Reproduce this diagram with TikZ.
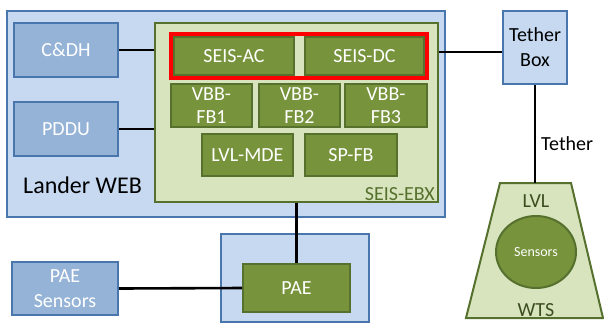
\documentclass[tikz,border=0pt]{standalone}
\usepackage{fontspec}
\setmainfont{Carlito}
\usetikzlibrary{shapes.geometric}
\definecolor{lblue}{HTML}{C6D9F1}
\definecolor{mblue}{HTML}{95B3D7}
\definecolor{bblue}{HTML}{4A76AE}
\definecolor{lgreen}{HTML}{D7E4BD}
\definecolor{dgreen}{HTML}{77933C}
\definecolor{bgreen}{HTML}{56702E}
\tikzset{
  box/.style={draw, rectangle, inner sep=0pt, line width=2pt},
  bluebox/.style={box, draw=bblue, fill=mblue, text=white, font=\fontsize{20}{24}\selectfont, align=center},
  lbluebox/.style={box, draw=bblue, fill=lblue},
  greenbox/.style={box, draw=bgreen, fill=dgreen, text=white, font=\fontsize{20}{23}\selectfont, align=center},
  conn/.style={draw=black, line width=2.6pt},
  lbl/.style={inner sep=0pt, font=\fontsize{20}{24}\selectfont}
}
\begin{document}
\begin{tikzpicture}[x=1pt,y=-1pt]
\useasboundingbox (0,0) rectangle (604,325);
% Lander WEB
\node[lbluebox, minimum width=438pt, minimum height=206pt] (lander) at (226,114) {};
\node[lbl, anchor=base west, font=\fontsize{24}{28}\selectfont] (landerlbl) at (23,193) {Lander WEB};
\node[bluebox, minimum width=104pt, minimum height=54pt] (cdh) at (66,50) {C\&DH};
\node[bluebox, minimum width=104pt, minimum height=54pt] (pddu) at (66,129) {PDDU};
% SEIS-EBX
\node[box, draw=bgreen, fill=lgreen, minimum width=283pt, minimum height=179pt] (ebx) at (296.5,112.5) {};
\node[lbl, anchor=base east, text=bgreen] (ebxlbl) at (435,200) {SEIS-EBX};
\node[greenbox, minimum width=120pt, minimum height=38pt] (ac) at (234,56) {SEIS-AC};
\node[greenbox, minimum width=119pt, minimum height=38pt] (dc) at (364.5,56) {SEIS-DC};
\node[box, draw=red, line width=3.5pt, minimum width=256pt, minimum height=44pt] (red) at (299,56) {};
\node[greenbox, minimum width=81pt, minimum height=43pt] (fb1) at (211.5,105.5) {VBB-\\FB1};
\node[greenbox, minimum width=81pt, minimum height=43pt] (fb2) at (299.5,105.5) {VBB-\\FB2};
\node[greenbox, minimum width=82pt, minimum height=43pt] (fb3) at (386,105.5) {VBB-\\FB3};
\node[greenbox, minimum width=91pt, minimum height=42pt] (mde) at (247.5,155) {LVL-MDE};
\node[greenbox, minimum width=92pt, minimum height=42pt] (spfb) at (351,155) {SP-FB};
% Tether box
\node[lbluebox, minimum width=64pt, minimum height=73pt, align=center, font=\fontsize{20}{25}\selectfont] (tb) at (535,47.5) {Tether\\Box};
% WTS
\coordinate (wtstop) at (535,183);
\draw[line width=2pt, draw=bgreen, fill=lgreen] (500,183) -- (571,183) -- (603,318) -- (466,318) -- cycle;
\node[ellipse, draw=bgreen, fill=dgreen, line width=2pt, minimum width=80pt, minimum height=72pt, inner sep=0pt, text=white, font=\fontsize{14}{16}\selectfont] (sens) at (536,252) {Sensors};
\node[lbl, anchor=base, text=bgreen!70!black] (lvl) at (536,207) {LVL};
\node[lbl, anchor=base, text=bgreen!70!black] (wts) at (536,316) {WTS};
% PAE
\node[lbluebox, minimum width=148pt, minimum height=88pt] (paeout) at (295,278) {};
\node[greenbox, minimum width=107pt, minimum height=48pt] (pae) at (296.5,288) {PAE};
\node[bluebox, minimum width=106pt, minimum height=53pt, font=\fontsize{20}{25}\selectfont] (paes) at (65,288.5) {PAE\\Sensors};
% connectors
\coordinate (tl) at (470,52);
\draw[conn] (cdh.east) -- (cdh.east -| ebx.west);
\draw[conn] (pddu.east) -- (pddu.east -| ebx.west);
\draw[conn] (tl -| ebx.east) -- (tl -| tb.west);
\draw[conn] (tb.south) -- (wtstop);
\node[lbl, anchor=base west] (tetherlbl) at (541,150) {Tether};
\draw[conn] (ebx.south) -- (pae.north);
\draw[conn] (paes.east) -- (pae.west);
\end{tikzpicture}
\end{document}
